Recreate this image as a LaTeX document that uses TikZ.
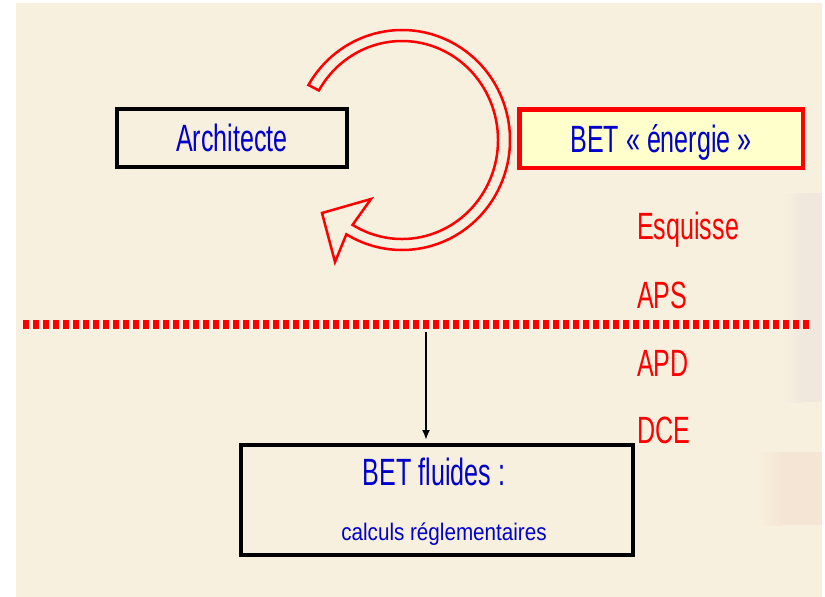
\documentclass[tikz,border=0pt]{standalone}
\usepackage{fontspec}
\setmainfont{Liberation Sans}
\newfontfamily\slidefont[FakeStretch=0.66]{Liberation Sans}
\newfontfamily\smallslidefont[FakeStretch=0.86]{Liberation Sans}
\usetikzlibrary{arrows.meta}
\definecolor{slidebg}{RGB}{248,240,222}
\definecolor{shadegrey}{RGB}{240,232,220}
\definecolor{shadepink}{RGB}{245,229,212}
\definecolor{textblue}{RGB}{0,0,204}
\definecolor{boxyellow}{RGB}{255,255,204}

\begin{document}
\begin{tikzpicture}[x=1pt,y=-1pt,
    actor/.style={draw,line width=4pt,inner sep=0pt,text=textblue,
        text height=27pt,text depth=0pt,font=\slidefont\fontsize{38}{40}\selectfont},
    phase/.style={anchor=base west,inner sep=0pt,text=red,font=\slidefont\fontsize{38}{40}\selectfont}]

    \useasboundingbox (0,0) rectangle (825,597);
    \fill[slidebg] (16,3) rectangle (822,597);
    \shade[left color=slidebg,right color=shadegrey] (782,193) rectangle (802,402);
    \fill[shadegrey] (802,193) rectangle (822,402);
    \shade[left color=slidebg,right color=shadepink] (757,452) rectangle (782,525);
    \fill[shadepink] (782,452) rectangle (822,525);

    \node[actor,minimum width=230pt,minimum height=58pt] (archi) at (232,138) {Architecte};
    \node[actor,draw=red,line width=4.5pt,fill=boxyellow,minimum width=283.5pt,minimum height=58.5pt] (energie) at (661,138.5) {BET « énergie »};
    \node[actor,minimum width=392pt,minimum height=110pt] (fluides) at (437,500) {};
    \node[anchor=base,inner sep=0pt,text=textblue,font=\slidefont\fontsize{38}{40}\selectfont] (fluidestitle) at (434,485) {BET fluides :};
    \node[anchor=base,inner sep=0pt,text=textblue,font=\smallslidefont\fontsize{24}{26}\selectfont] (fluidessub) at (444,540) {calculs réglementaires};

    \node[phase] (esquisse) at (637,239) {Esquisse};
    \node[phase] (aps) at (637,308) {APS};
    \node[phase] (apd) at (637,376) {APD};
    \node[phase] (dce) at (637,443) {DCE};

    \coordinate (sepwest) at (23,324);
    \coordinate (sepeast) at (812,324);
    \draw[red,line width=9pt,dash pattern=on 6pt off 4pt] (sepwest) -- (sepeast);

    \draw[red,line width=2.5pt,line join=miter] ({402+108*cos(-150)},{140+110*sin(-150)})
        arc[start angle=-150,end angle=121,x radius=108,y radius=110]
        -- (335,262) -- (322,213) -- (371,199)
        -- ({402+96*cos(121)},{140+99*sin(121)})
        arc[start angle=121,end angle=-150,x radius=96,y radius=99] -- cycle;

    \coordinate (drop) at (426,332);
    \draw[-{Latex[length=10pt,width=8pt]},line width=2pt,shorten >=3pt] (drop) -- (drop |- fluides.north);
\end{tikzpicture}
\end{document}
